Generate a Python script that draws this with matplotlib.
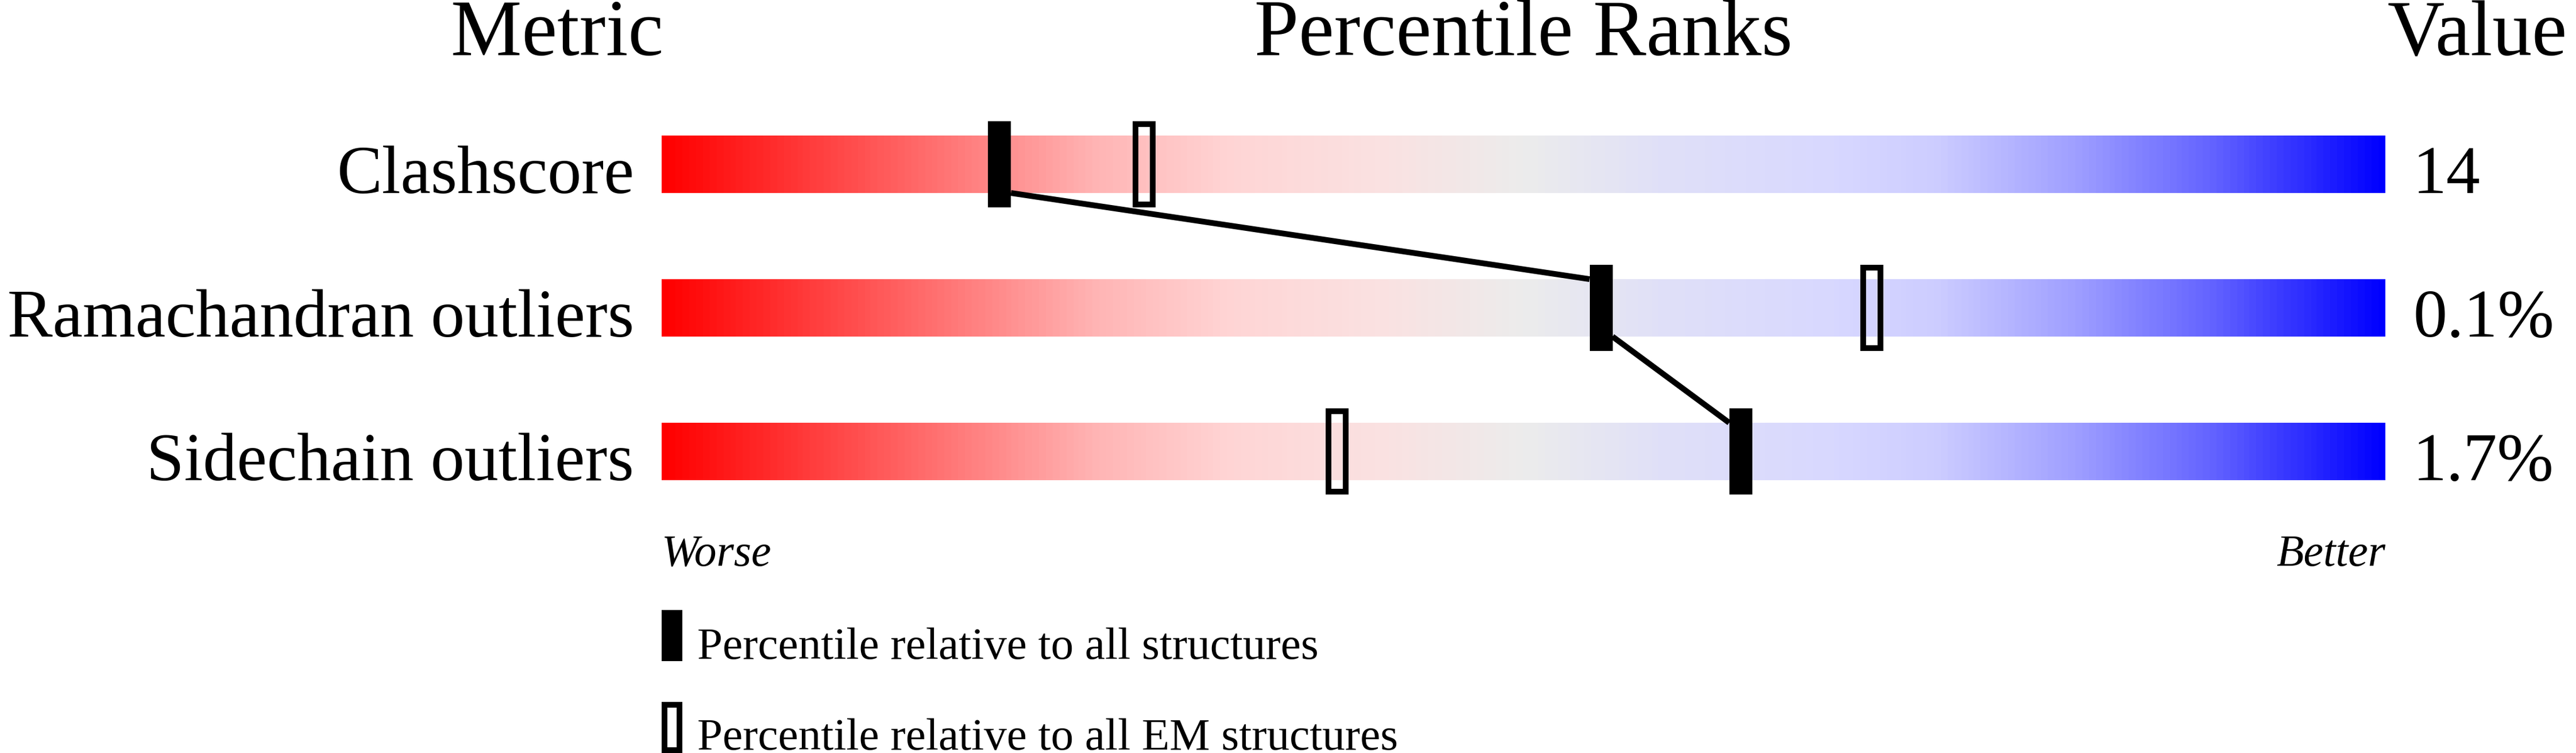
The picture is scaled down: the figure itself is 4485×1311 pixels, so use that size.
import numpy as np
import matplotlib
matplotlib.use("Agg")
import matplotlib.pyplot as plt
from matplotlib.colors import LinearSegmentedColormap
from matplotlib.patches import Rectangle

# data
metrics = ["Clashscore", "Ramachandran outliers", "Sidechain outliers"]
values = ["14", "0.1%", "1.7%"]
pct_all = [19.6, 54.5, 62.6]
pct_em = [28.0, 70.2, 39.2]
legend_labels = ["Percentile relative to all structures",
                 "Percentile relative to all EM structures"]

# colour stops of the bar gradient (position, rgb)
stops = [(0.00, (255, 0, 0)), (0.12, (255, 85, 85)), (0.25, (255, 180, 180)),
         (0.33, (255, 213, 213)), (0.42, (250, 226, 226)), (0.50, (236, 236, 236)),
         (0.58, (224, 224, 248)), (0.68, (216, 216, 255)), (0.74, (205, 205, 255)),
         (0.82, (160, 160, 255)), (0.90, (100, 100, 255)), (1.00, (0, 0, 255))]
cmap = LinearSegmentedColormap.from_list(
    "wr", [(p, tuple(c / 255 for c in rgb)) for p, rgb in stops], N=256)

W, H, DPI = 4485, 1311, 100
fig = plt.figure(figsize=(W / DPI, H / DPI), dpi=DPI)
# x: percentile 0..100 -> pixel 1152..4153 ; y: row index, 250 px per row, row 0 at 286 px
x0, x1 = 1152, 4153
ax = fig.add_axes([x0 / W, 0, (x1 - x0) / W, 1])
ax.set_xlim(0, 100)
ax.set_ylim((H - 286) / 250, -286 / 250)
ax.axis("off")

serif = "Liberation Serif"
px = 100 / (x1 - x0)          # one pixel in percentile units
bar_h = 0.2
mk_h = 0.3
mk_w = 40 * px
lw = 10 * 72 / DPI

grad = np.linspace(0, 1, 1000).reshape(1, -1)
for i, name in enumerate(metrics):
    ax.imshow(grad, cmap=cmap, aspect="auto", extent=[0, 100, i + bar_h, i - bar_h],
              interpolation="nearest", zorder=1)
    ax.text(-1.6, i + bar_h, name, ha="right", va="baseline", fontsize=85, family=serif)
    ax.text(101.6, i + bar_h, values[i], ha="left", va="baseline", fontsize=85, family=serif)

# connecting line between the "all structures" markers
for i in range(len(metrics) - 1):
    ax.plot([pct_all[i] + mk_w / 2, pct_all[i + 1] - mk_w / 2],
            [i + bar_h, i + 1 - bar_h], color="black", lw=lw, zorder=2,
            solid_capstyle="butt")

for i in range(len(metrics)):
    ax.add_patch(Rectangle((pct_all[i] - mk_w / 2, i - mk_h), mk_w, 2 * mk_h,
                           facecolor="black", edgecolor="none", zorder=3))
    ax.add_patch(Rectangle((pct_em[i] - mk_w / 2 + 5 * px, i - mk_h + 0.02), mk_w - 10 * px,
                           2 * mk_h - 0.04, fill=False, edgecolor="black", lw=lw,
                           joinstyle="miter", zorder=3))

# headers
ax.text(0.1, -0.76, "Metric", ha="right", va="baseline", fontsize=100, family=serif)
ax.text(50, -0.76, "Percentile Ranks", ha="center", va="baseline", fontsize=100, family=serif)
ax.text(100.1, -0.76, "Value", ha="left", va="baseline", fontsize=99, family=serif)

ax.text(0, 2.796, "Worse", ha="left", va="baseline", fontsize=56, family=serif, style="italic")
ax.text(100, 2.796, "Better", ha="right", va="baseline", fontsize=56, family=serif, style="italic")

# legend
leg_w = 36 * px
ax.add_patch(Rectangle((0, 3.104), leg_w, 0.356, facecolor="black", edgecolor="none"))
ax.add_patch(Rectangle((5 * px, 3.744 + 0.02), leg_w - 10 * px, 0.356 - 0.04, fill=False,
                       edgecolor="black", lw=lw, joinstyle="miter", clip_on=False))
ax.text(2.07, 3.444, legend_labels[0], ha="left", va="baseline", fontsize=57, family=serif)
ax.text(2.07, 4.076, legend_labels[1], ha="left", va="baseline", fontsize=57, family=serif)

fig.savefig("out.png", dpi=DPI, facecolor="white")
